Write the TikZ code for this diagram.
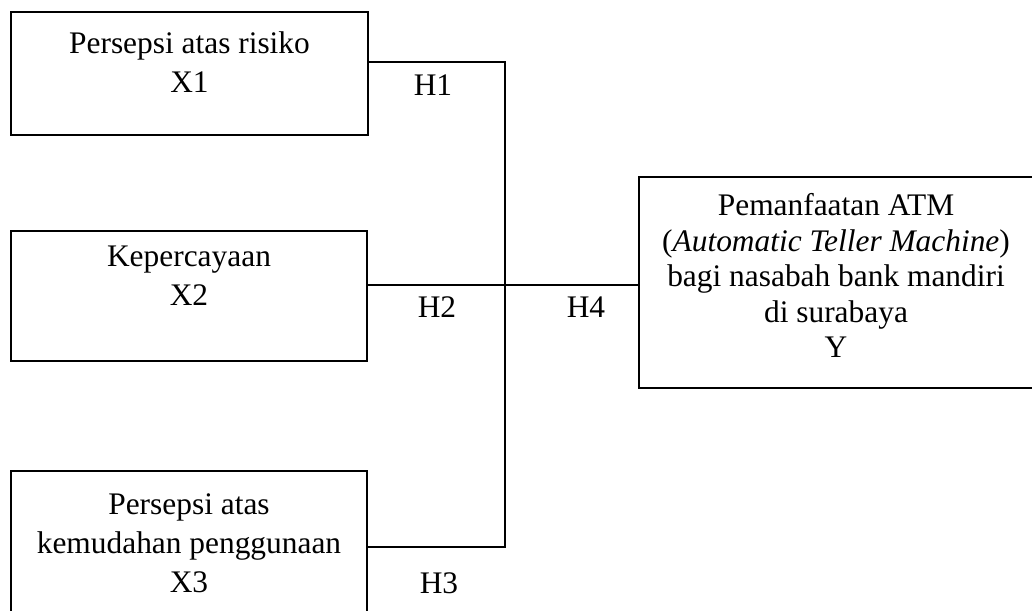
\documentclass[tikz,border=0pt]{standalone}
\usepackage{fontspec}
\setmainfont{Liberation Serif}
\begin{document}
\begin{tikzpicture}[x=0.5pt,y=-0.5pt,
    kotak/.style={rectangle,draw=black,line width=0.9pt,inner sep=0pt},
    isi/.style={align=center,anchor=north,inner sep=0pt,font=\fontsize{15.7}{19.5}\selectfont},
    hipotesis/.style={anchor=base,inner sep=0pt,font=\fontsize{15.7}{19.5}\selectfont},
    garis/.style={draw=black,line width=0.9pt}]
\useasboundingbox (0,0) rectangle (1032,610);

% boxes for the variables
\node[kotak,minimum width=178.5pt,minimum height=61.5pt] (x1) at (189.5,73.5) {};
\node[kotak,minimum width=178pt,minimum height=65pt]     (x2) at (189,296) {};
\node[kotak,minimum width=178pt,minimum height=70.5pt]   (x3) at (189,541.5) {};
\node[kotak,minimum width=200.5pt,minimum height=105.5pt] (y) at (839.5,282.5) {};

% texts in the boxes
\node[isi] (tx1) at (189.5,31) {Persepsi atas risiko\\X1};
\node[isi] (tx2) at (189,246) {Kepercayaan\\X2};
\node[isi] (tx3) at (189,493) {Persepsi atas\\kemudahan penggunaan\\X3};
\node[isi,font=\fontsize{15.7}{17.8}\selectfont] (ty) at (836,193)
    {Pemanfaatan ATM\\(\textit{Automatic Teller Machine})\\bagi nasabah bank mandiri\\di surabaya\\Y};

% junction points
\coordinate (c1) at (505,62);
\coordinate (c2) at (505,285);
\coordinate (c3) at (505,547);

% connectors
\draw[garis] (x1.east |- c1) -- (c1) -- (c3) -- (x3.east |- c3);
\draw[garis] (x2.east |- c2) -- (y.west |- c2);

% hypotheses
\node[hipotesis] (h1) at (433,96) {H1};
\node[hipotesis] (h2) at (437,317) {H2};
\node[hipotesis] (h3) at (439,593) {H3};
\node[hipotesis] (h4) at (586,317) {H4};
\end{tikzpicture}
\end{document}
